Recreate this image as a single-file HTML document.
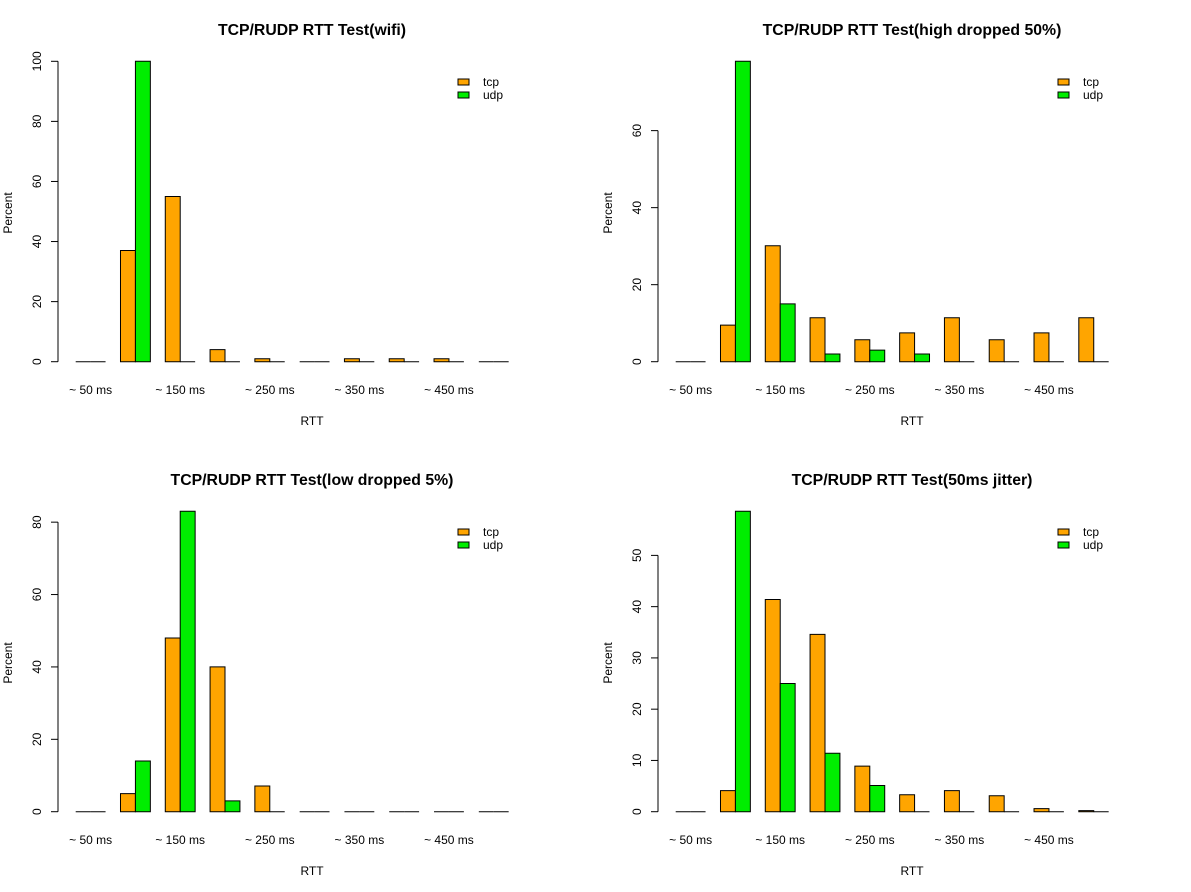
<!DOCTYPE html>
<html><head><meta charset="utf-8"><style>
body{margin:0;background:#fff}
svg{display:block;font-family:"Liberation Sans",Arial,sans-serif}
</style></head><body>
<svg id="chart" width="1191" height="892" viewBox="0 0 1191 892" xmlns="http://www.w3.org/2000/svg"></svg>
<script>
const categories = ["~ 50 ms","~ 100 ms","~ 150 ms","~ 200 ms","~ 250 ms","~ 300 ms","~ 350 ms","~ 400 ms","~ 450 ms","~ 500 ms"];
const titles = ["TCP/RUDP RTT Test(wifi)","TCP/RUDP RTT Test(high dropped 50%)","TCP/RUDP RTT Test(low dropped 5%)","TCP/RUDP RTT Test(50ms jitter)"];
const tcpWifi = [0,37,55,4,1,0,1,1,1,0];
const udpWifi = [0,100,0,0,0,0,0,0,0,0];
const tcpHigh = [0,9.5,30.1,11.4,5.7,7.5,11.4,5.7,7.5,11.4];
const udpHigh = [0,78,15,2,3,2,0,0,0,0];
const tcpLow = [0,5,48,40,7.1,0,0,0,0,0];
const udpLow = [0,14,83,3,0,0,0,0,0,0];
const tcpJitter = [0,4.1,41.4,34.6,8.9,3.3,4.1,3.1,0.6,0.2];
const udpJitter = [0,58.6,25,11.4,5.1,0,0,0,0,0];
const ticksWifi = [0,20,40,60,80,100];
const ticksHigh = [0,20,40,60];
const ticksLow = [0,20,40,60,80];
const ticksJitter = [0,10,20,30,40,50];
const xLabelIdx = [0,2,4,6,8];

const svg = document.getElementById('chart');
const NS = 'http://www.w3.org/2000/svg';
function mk(tag, attrs, parent){const e=document.createElementNS(NS,tag);for(const k in attrs)e.setAttribute(k,attrs[k]);parent.appendChild(e);return e;}

const panels = [
 {ox:0, oy:0, tcp:tcpWifi, udp:udpWifi, ticks:ticksWifi, title:titles[0], name:'wifi'},
 {ox:600, oy:0, tcp:tcpHigh, udp:udpHigh, ticks:ticksHigh, title:titles[1], name:'high-dropped'},
 {ox:0, oy:450, tcp:tcpLow, udp:udpLow, ticks:ticksLow, title:titles[2], name:'low-dropped'},
 {ox:600, oy:450, tcp:tcpJitter, udp:udpJitter, ticks:ticksJitter, title:titles[3], name:'jitter'}
];

panels.forEach(p=>{
  const g = mk('g',{transform:`translate(${p.ox},${p.oy})`},svg);
  
  
  const base = 361.7, plotH = 300.4;
  const maxV = Math.max(...p.tcp, ...p.udp);
  const y = v => base - v/maxV*plotH;
  const unit = 14.93, x0 = 75.7 - unit;
  const xBar = (i, s) => x0 + unit*(1 + 3*i + s);

  const t = mk('text',{x:312,y:35,'text-anchor':'middle','font-size':'15.8','font-weight':'bold',fill:'#000'},g);
  t.textContent = p.title;
  
  

  const ax = mk('g',{},g);
  
  
  const tmax = p.ticks[p.ticks.length-1];
  mk('line',{x1:58,x2:58,y1:y(0),y2:y(tmax),stroke:'#000','stroke-width':1},ax);
  p.ticks.forEach(v=>{
    mk('line',{x1:51,x2:58,y1:y(v),y2:y(v),stroke:'#000','stroke-width':1},ax);
    const tl = mk('text',{x:0,y:0,'text-anchor':'middle','font-size':'12',fill:'#000',transform:`translate(41,${y(v)}) rotate(-90)`},ax);
    tl.textContent = v;
    
    
  });
  const yt = mk('text',{x:0,y:0,'text-anchor':'middle','font-size':'12',fill:'#000',transform:`translate(12,213) rotate(-90)`},g);
  yt.textContent = 'Percent';
  
  

  [[p.tcp,'#ffa500','tcp'],[p.udp,'#00ee00','udp']].forEach(([arr,col,nm],s)=>{
    arr.forEach((v,i)=>{
      const xa = xBar(i,s), xb = xa+unit, yt2 = y(v);
      const b = mk('path',{d:`M${xa},${base}V${yt2}H${xb}V${base}Z`,fill:col,stroke:'#000','stroke-width':1},g);
      
      
    });
  });

  xLabelIdx.forEach(i=>{
    const xl = mk('text',{x:xBar(i,1),y:394,'text-anchor':'middle','font-size':'12',fill:'#000'},g);
    xl.textContent = categories[i];
    
    
  });
  const xt = mk('text',{x:312,y:425,'text-anchor':'middle','font-size':'12',fill:'#000'},g);
  xt.textContent = 'RTT';
  
  

  const lg = mk('g',{},g);
  
  
  [['tcp','#ffa500',79],['udp','#00ee00',92]].forEach(([nm,col,yy])=>{
    const e = mk('g',{},lg);
    
    
    mk('rect',{x:458,y:yy,width:11,height:6,fill:col,stroke:'#000','stroke-width':1},e);
    const lt = mk('text',{x:483,y:yy+7,'font-size':'12',fill:'#000'},e);
    lt.textContent = nm;
  });
});
</script>
</body></html>
